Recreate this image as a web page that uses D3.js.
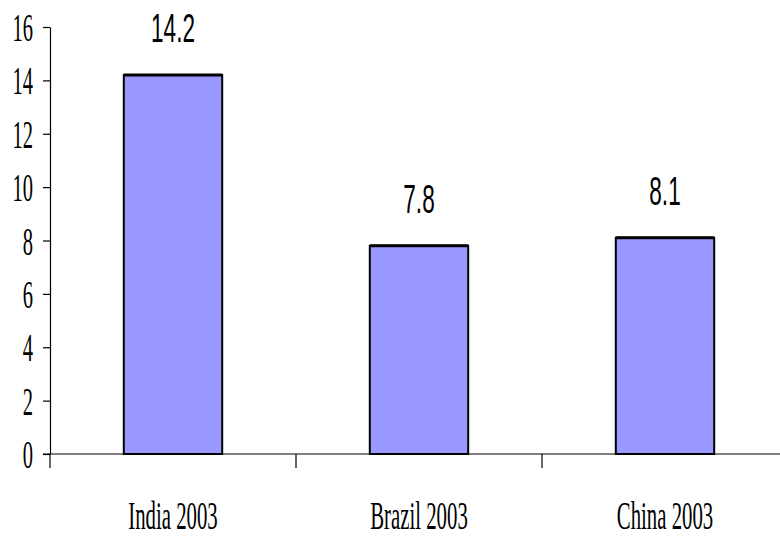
<!DOCTYPE html>
<html><head><meta charset="utf-8">
<script src="https://cdn.jsdelivr.net/npm/d3@7"></script>
<style>body{margin:0;background:#fff}svg{display:block}</style>
</head><body>
<script>
const categories = ["India 2003", "Brazil 2003", "China 2003"];
const values = [14.2, 7.8, 8.1];
const yTicks = [0, 2, 4, 6, 8, 10, 12, 14, 16];

const W = 780, H = 538;
const svg = d3.select("body").append("svg").attr("width", W).attr("height", H);

const x = d3.scaleBand().domain(categories).range([50, 788]).padding(0);
const y = d3.scaleLinear().domain([0, 16]).range([454, 27]);

const serif = "'Liberation Serif','Times New Roman',serif";
const sans = "'Liberation Sans',Arial,sans-serif";

// bars
const bw = x.bandwidth();
svg.selectAll("rect.bar").data(values).enter().append("rect")
  .attr("x", (d, i) => x(categories[i]) + bw * 0.3)
  .attr("width", bw * 0.4)
  .attr("y", d => y(d))
  .attr("height", d => y(0) - y(d))
  .attr("fill", "#9999FF").attr("stroke", "#000").attr("stroke-width", 2);
svg.selectAll("line.top").data(values).enter().append("line")
  .attr("x1", (d, i) => x(categories[i]) + bw * 0.3)
  .attr("x2", (d, i) => x(categories[i]) + bw * 0.7)
  .attr("y1", d => y(d)).attr("y2", d => y(d))
  .attr("stroke", "#000").attr("stroke-width", 3);

// y axis
const yAxis = svg.append("g").attr("transform", "translate(50,0)")
  .call(d3.axisLeft(y).tickValues(yTicks).tickSize(7).tickSizeOuter(0).tickFormat(""));
yAxis.select(".domain").attr("stroke", "#000").attr("stroke-width", 1.2);
yAxis.selectAll(".tick line").attr("stroke", "#000").attr("stroke-width", 1.2);
svg.selectAll("text.ytl").data(yTicks).enter().append("text")
  .attr("transform", d => `translate(33,${y(d) + 14}) scale(0.5,1)`)
  .attr("text-anchor", "end")
  .style("font-family", serif).style("font-size", "41px").attr("fill", "#000")
  .text(d => d);

// x axis
const xAxis = svg.append("g").attr("transform", "translate(0,454)")
  .call(d3.axisBottom(x).tickSize(0).tickFormat(""));
xAxis.select(".domain").remove();
svg.append("line").attr("x1", 43).attr("x2", 780).attr("y1", y(0)).attr("y2", y(0))
  .attr("stroke", "#000").attr("stroke-width", 1.2);
const bounds = categories.map(c => x(c));
svg.selectAll("line.xt").data(bounds).enter().append("line")
  .attr("x1", d => d).attr("x2", d => d).attr("y1", y(0)).attr("y2", y(0) + 14)
  .attr("stroke", "#000").attr("stroke-width", 1.2);

svg.selectAll("text.xl").data(categories).enter().append("text")
  .attr("transform", d => `translate(${x(d) + bw / 2},529) scale(0.52,1)`)
  .attr("text-anchor", "middle")
  .style("font-family", serif).style("font-size", "40px").attr("fill", "#000")
  .text(d => d);

// value labels
svg.selectAll("text.vl").data(values).enter().append("text")
  .attr("transform", (d, i) => `translate(${x(categories[i]) + bw / 2},${y(d) - 33}) scale(0.55,1)`)
  .attr("text-anchor", "middle")
  .style("font-family", sans).style("font-size", "41px").attr("fill", "#000")
  .text(d => d.toFixed(1));
</script>
</body></html>
